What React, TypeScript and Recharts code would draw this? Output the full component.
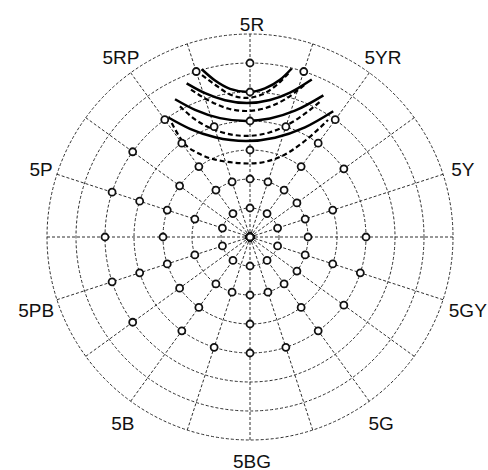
import React from 'react';
import {
  RadarChart,
  Radar,
  PolarGrid,
  PolarAngleAxis,
  PolarRadiusAxis,
  LineChart,
  Line,
  XAxis,
  YAxis,
} from 'recharts';

// ---------- data ----------
const hueNames = [
  '5R', '10R', '5YR', '10YR', '5Y', '10Y', '5GY', '10GY', '5G', '10G',
  '5BG', '10BG', '5B', '10B', '5PB', '10PB', '5P', '10P', '5RP', '10RP',
];

// chroma values of the plotted samples, per hue (same order as hueNames)
const sampleChromas: number[][] = [
  [0, 2, 4, 6, 8, 10, 12], // 5R (0 = neutral centre)
  [4, 8, 12], // 10R
  [2, 4, 6, 8, 10], // 5YR
  [4, 8], // 10YR
  [2, 4, 6], // 5Y
  [4, 8], // 10Y
  [2, 4, 6, 8], // 5GY
  [4, 8], // 10GY
  [2, 4, 6, 8], // 5G
  [4, 8], // 10G
  [2, 4, 6, 8], // 5BG
  [4, 8], // 10BG
  [2, 4, 6, 8], // 5B
  [6, 10], // 10B
  [2, 4, 6, 8, 10], // 5PB
  [6, 10], // 10PB
  [2, 4, 6, 8, 10], // 5P
  [6, 10], // 10P
  [2, 4, 6, 8, 10], // 5RP
  [4, 8, 12], // 10RP
];

const chromaLevels = [0, 2, 4, 6, 8, 10, 12];
const chromaMax = 14;

// curves in chroma units (x to the right, y upwards)
const solidCurve1 = [
  { x: -3.33, y: 11.57 }, { x: -2.41, y: 10.79 }, { x: -1.38, y: 10.22 }, { x: -0.14, y: 10.0 },
  { x: 1.03, y: 10.25 }, { x: 2.07, y: 10.84 }, { x: 2.88, y: 11.62 },
];
const solidCurve2 = [
  { x: -4.37, y: 10.6 }, { x: -3.1, y: 9.92 }, { x: -1.72, y: 9.43 }, { x: -0.21, y: 9.24 },
  { x: 1.38, y: 9.45 }, { x: 2.76, y: 9.96 }, { x: 4.26, y: 10.86 },
];
const solidCurve3 = [
  { x: -5.17, y: 9.5 }, { x: -3.79, y: 8.77 }, { x: -2.07, y: 8.2 }, { x: -0.28, y: 8.0 },
  { x: 1.38, y: 8.17 }, { x: 3.1, y: 8.71 }, { x: 5.06, y: 9.77 },
];
const solidCurve4 = [
  { x: -5.63, y: 8.24 }, { x: -4.14, y: 7.46 }, { x: -2.41, y: 6.88 }, { x: -0.28, y: 6.62 },
  { x: 1.72, y: 6.85 }, { x: 3.79, y: 7.56 }, { x: 5.74, y: 8.67 },
];
const dashedCurve1 = [
  { x: -3.31, y: 11.17 }, { x: -2.41, y: 10.5 }, { x: -1.38, y: 9.83 }, { x: -0.28, y: 9.59 },
  { x: 0.83, y: 9.83 }, { x: 1.86, y: 10.5 }, { x: 2.76, y: 11.41 },
];
const dashedCurve2 = [
  { x: -4.07, y: 10.16 }, { x: -2.76, y: 9.37 }, { x: -1.52, y: 8.86 }, { x: -0.28, y: 8.69 },
  { x: 1.03, y: 8.88 }, { x: 2.41, y: 9.49 }, { x: 3.86, y: 10.58 },
];
const dashedCurve3 = [
  { x: -4.83, y: 9.01 }, { x: -3.79, y: 8.11 }, { x: -2.07, y: 7.26 }, { x: -0.28, y: 6.97 },
  { x: 1.38, y: 7.22 }, { x: 3.1, y: 8.03 }, { x: 4.83, y: 9.33 },
];
const dashedCurve4 = [
  { x: -5.4, y: 7.86 }, { x: -4.62, y: 6.55 }, { x: -3.45, y: 5.72 }, { x: -1.93, y: 5.24 },
  { x: 0, y: 5.07 }, { x: 2.07, y: 5.52 }, { x: 3.86, y: 6.69 }, { x: 5.38, y: 8.07 },
];

const solidCurves = [solidCurve1, solidCurve2, solidCurve3, solidCurve4];
const dashedCurves = [dashedCurve1, dashedCurve2, dashedCurve3, dashedCurve4];

// ---------- layout ----------
const W = 488;
const H = 470;
const CX = 250;
const CY = 237;
const R = 203;

const rows = hueNames.map((hue, i) => {
  const row: Record<string, any> = { hue };
  chromaLevels.forEach((c) => {
    row['c' + c] = sampleChromas[i].includes(c) ? c : null;
  });
  return row;
});

const HueTick = (props: any) => {
  const { payload } = props;
  const name = String(payload.value);
  if (!name.startsWith('5')) return <g />;
  const a = (payload.coordinate * Math.PI) / 180;
  const c = Math.cos(a);
  const s = Math.sin(a);
  const halfW = name.length * 5.5;
  const rr = R + 7 + halfW * Math.abs(c) + 4 * Math.abs(s);
  const below = s < 0 ? 9 * -s : 0;
  return (
    <text
      x={CX + 2 + rr * c}
      y={CY - rr * s + below + 1}
      textAnchor="middle"
      dominantBaseline="central"
      fontSize={19}
      fontFamily="'Liberation Sans', Arial, sans-serif"
      fill="#111"
    >
      {name}
    </text>
  );
};

const layer: React.CSSProperties = { position: 'absolute', left: 0, top: 0 };
const noMargin = { top: 0, right: 0, bottom: 0, left: 0 };

export default function App() {
  return (
    <div style={{ position: 'absolute', left: 0, top: 0, width: W, height: H, background: '#fff' }}>
      {/* grid + labels */}
      <div style={layer}>
        <RadarChart
          width={W}
          height={H}
          cx={CX}
          cy={CY}
          innerRadius={0}
          outerRadius={R}
          margin={noMargin}
          data={rows}
          startAngle={90}
          endAngle={-270}
        >
          <PolarGrid gridType="circle" stroke="#2e2e2e" strokeWidth={1} strokeDasharray="3 2" />
          <PolarAngleAxis dataKey="hue" tick={HueTick} tickLine={false} axisLine={false} />
          <PolarRadiusAxis
            type="number"
            domain={[0, chromaMax]}
            tickCount={8}
            tick={false}
            axisLine={false}
          />
          <Radar dataKey="c0" stroke="none" fill="none" dot={false} isAnimationActive={false} />
        </RadarChart>
      </div>
      {/* curves */}
      <div style={layer}>
        <LineChart
          width={W}
          height={H}
          margin={{ top: CY - R, left: CX - R, right: W - CX - R, bottom: H - CY - R }}
        >
          <XAxis type="number" dataKey="x" domain={[-chromaMax, chromaMax]} hide allowDataOverflow />
          <YAxis type="number" domain={[-chromaMax, chromaMax]} hide allowDataOverflow />
          {solidCurves.map((d, i) => (
            <Line
              key={'s' + i}
              data={d}
              dataKey="y"
              type="monotone"
              stroke="#000"
              strokeWidth={2.5}
              dot={false}
              activeDot={false}
              isAnimationActive={false}
            />
          ))}
          {dashedCurves.map((d, i) => (
            <Line
              key={'d' + i}
              data={d}
              dataKey="y"
              type="monotone"
              stroke="#000"
              strokeWidth={2.2}
              strokeDasharray="5 3"
              dot={false}
              activeDot={false}
              isAnimationActive={false}
            />
          ))}
        </LineChart>
      </div>
      {/* sample markers */}
      <div style={layer}>
        <RadarChart
          width={W}
          height={H}
          cx={CX}
          cy={CY}
          innerRadius={0}
          outerRadius={R}
          margin={noMargin}
          data={rows}
          startAngle={90}
          endAngle={-270}
        >
          <PolarAngleAxis dataKey="hue" tick={false} tickLine={false} axisLine={false} />
          <PolarRadiusAxis type="number" domain={[0, chromaMax]} tick={false} axisLine={false} />
          {chromaLevels.map((c) => (
            <Radar
              key={c}
              dataKey={'c' + c}
              stroke="none"
              fill="none"
              dot={{ r: 3.5, stroke: '#111', strokeWidth: 1.8, fill: '#fff', fillOpacity: 1 }}
              isAnimationActive={false}
            />
          ))}
        </RadarChart>
      </div>
    </div>
  );
}
